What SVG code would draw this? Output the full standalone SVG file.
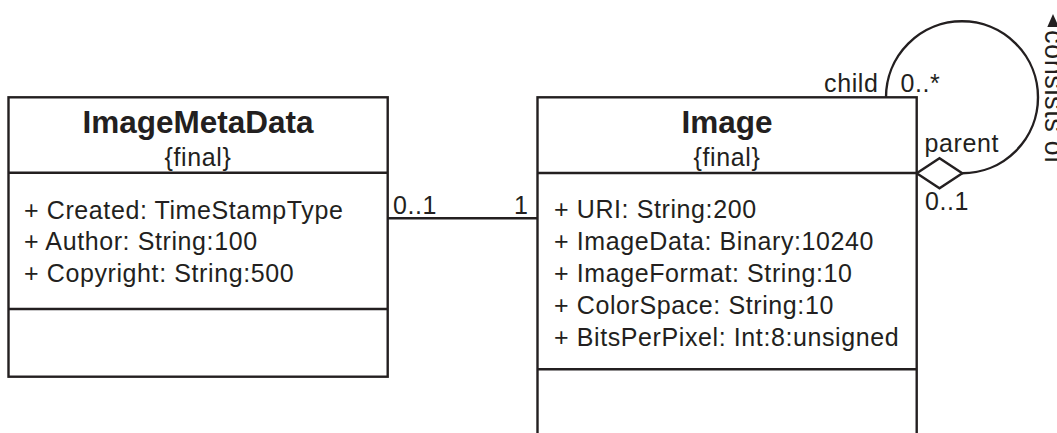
<svg xmlns="http://www.w3.org/2000/svg" width="1057" height="433" viewBox="0 0 1057 433">
  <style>
    .box { fill: #ffffff; stroke: #231f20; stroke-width: 2.4; }
    .ln { fill: none; stroke: #231f20; stroke-width: 2.4; }
    .title { font-family: "Liberation Sans", Arial, Helvetica, sans-serif; font-weight: bold; font-size: 31.5px; fill: #231f20; text-anchor: middle; }
    .txt { font-family: "Liberation Sans", Arial, Helvetica, sans-serif; font-size: 25px; letter-spacing: 0.6px; fill: #231f20; }
    .mid { text-anchor: middle; }
    .end { text-anchor: end; }
  </style>
  <rect width="1057" height="433" fill="#ffffff"/>

  <g id="connectors">
    <line class="ln" x1="387.7" y1="218.3" x2="537.5" y2="218.3"/>
    <text class="txt" x="393" y="214">0..1</text>
    <text class="txt" x="514" y="214">1</text>

    <path class="ln" d="M 962 173.3 A 76 76 0 1 0 886 97.3"/>
    <polygon class="box" points="916.7,173.3 939.5,158.3 962.3,173.3 939.5,188.3"/>
    <text class="txt end" x="878.5" y="91.7">child</text>
    <text class="txt" x="900.5" y="91.7">0..*</text>
    <text class="txt" x="924.5" y="151.7">parent</text>
    <text class="txt" x="925" y="210">0..1</text>
    <polygon points="1053,14 1047.3,27 1058.7,27" fill="#231f20"/>
    <text class="txt" style="font-size:27px" transform="translate(1044.5,30) rotate(90)" x="0" y="0">consists of</text>
  </g>

  <g id="ImageMetaData">
    <rect class="box" x="8.5" y="97.3" width="379.2" height="279.4"/>
    <line class="ln" x1="8.5" y1="172.7" x2="387.7" y2="172.7"/>
    <line class="ln" x1="8.5" y1="309" x2="387.7" y2="309"/>
    <text class="title" x="198" y="132.7">ImageMetaData</text>
    <text class="txt mid" x="198" y="166">{final}</text>
    <text class="txt" x="24" y="218.5">+ Created: TimeStampType</text>
    <text class="txt" x="24" y="250">+ Author: String:100</text>
    <text class="txt" x="24" y="281.5">+ Copyright: String:500</text>
  </g>

  <g id="Image">
    <rect class="box" x="537.5" y="97.3" width="379.2" height="360"/>
    <line class="ln" x1="537.5" y1="173" x2="916.7" y2="173"/>
    <line class="ln" x1="537.5" y1="369.3" x2="916.7" y2="369.3"/>
    <text class="title" x="727" y="133.3">Image</text>
    <text class="txt mid" x="727" y="166">{final}</text>
    <text class="txt" x="554" y="217.5">+ URI: String:200</text>
    <text class="txt" x="554" y="249.5">+ ImageData: Binary:10240</text>
    <text class="txt" x="554" y="281.5">+ ImageFormat: String:10</text>
    <text class="txt" x="554" y="313.5">+ ColorSpace: String:10</text>
    <text class="txt" x="554" y="345.5">+ BitsPerPixel: Int:8:unsigned</text>
  </g>
</svg>
